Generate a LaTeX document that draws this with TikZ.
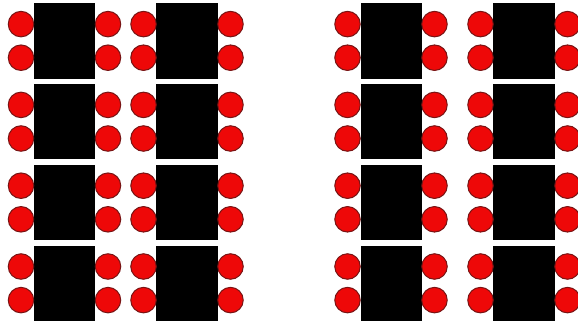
\documentclass[tikz,border=0pt]{standalone}
\begin{document}
\begin{tikzpicture}[x=1pt,y=-1pt,
  desk/.style={draw=black,fill=black,line width=0.5pt,inner sep=0pt,minimum width=60.5pt,minimum height=74.5pt},
  seat/.style={circle,draw={rgb,255:red,120;green,20;blue,20},fill={rgb,255:red,238;green,8;blue,8},line width=1pt,inner sep=0pt,minimum size=25.5pt}]
\useasboundingbox (0,0) rectangle (578,324);
\fill[white] (0,0) rectangle (578,324);
\foreach \dx/\lx/\rx [count=\c] in {64.3/21/108, 186.6/143.5/230.5, 391.2/347.5/434.5, 523.8/480.5/567.5}{
  \foreach \ty [count=\r] in {3.3,84.1,164.9,245.7}{
    \node[desk] (d\c\r) at (\dx,\ty+37.3) {};
    \node[seat] (l\c\r a) at (\lx,\ty+20.8) {};
    \node[seat] (l\c\r b) at (\lx,\ty+54.4) {};
    \node[seat] (r\c\r a) at (\rx,\ty+20.8) {};
    \node[seat] (r\c\r b) at (\rx,\ty+54.4) {};
  }
}
\end{tikzpicture}
\end{document}
